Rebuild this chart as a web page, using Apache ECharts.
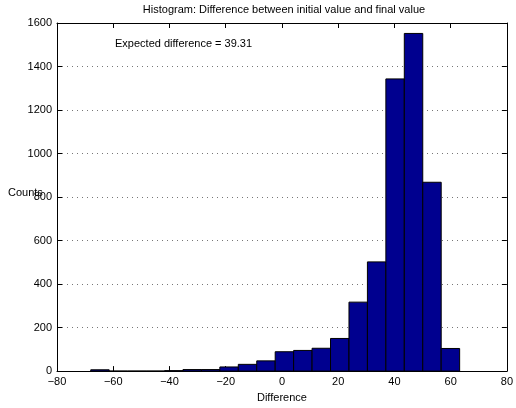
<!DOCTYPE html>
<html><head><meta charset="utf-8">
<script src="https://cdn.jsdelivr.net/npm/echarts@6/dist/echarts.min.js"></script>
<style>html,body{margin:0;padding:0;background:#fff}#c{width:516px;height:408px}</style>
</head><body><div id="c"></div>
<script>
// Histogram data (20 bins)
const binEdges = [-68.0,-61.44,-54.88,-48.32,-41.76,-35.2,-28.64,-22.08,-15.52,-8.96,-2.4,4.16,10.72,17.28,23.84,30.4,36.96,43.52,50.08,56.64,63.2];
const counts = [6,0,0,0,2,7,7,19,31,47,89,95,105,150,317,502,1343,1552,868,104];
const xTicks = [-80,-60,-40,-20,0,20,40,60,80];
const yTicks = [0,200,400,600,800,1000,1200,1400,1600];
const titleText = 'Histogram: Difference between initial value and final value';
const xLabel = 'Difference';
const yLabel = 'Counts';
const note = 'Expected difference = 39.31';

const data = counts.map((c,i)=>[binEdges[i], binEdges[i+1], c]);
const FONT = 'Liberation Sans';
const chart = echarts.init(document.getElementById('c'), null, {renderer:'canvas'});
const axisCommon = {
  axisLine:{show:true, onZero:false, lineStyle:{color:'#000', width:1}},
  axisTick:{show:true, inside:true, length:5, lineStyle:{color:'#000'}},
};
chart.setOption({
  animation:false,
  backgroundColor:'#fff',
  grid:{left:57, right:5, top:23, bottom:30},
  xAxis:[
    Object.assign({type:'value', min:xTicks[0], max:xTicks[xTicks.length-1], interval:20, position:'bottom',
      axisLabel:{fontFamily:FONT, fontSize:11, color:'#000', margin:5, formatter:v=>String(v).replace('-','\u2212')},
      splitLine:{show:false},
      name:xLabel, nameLocation:'middle', nameGap:19, nameTextStyle:{fontFamily:FONT, fontSize:11, color:'#000'}}, axisCommon),
    Object.assign({type:'value', min:xTicks[0], max:xTicks[xTicks.length-1], interval:20, position:'top',
      axisLabel:{show:false}, splitLine:{show:false}}, axisCommon)
  ],
  yAxis:[
    Object.assign({type:'value', min:yTicks[0], max:yTicks[yTicks.length-1], interval:200, position:'left',
      axisLabel:{fontFamily:FONT, fontSize:11, color:'#000', margin:5, formatter:v=>String(v)},
      splitLine:{show:true, lineStyle:{color:'#777', type:[1,4], width:1}}}, axisCommon),
    Object.assign({type:'value', min:yTicks[0], max:yTicks[yTicks.length-1], interval:200, position:'right',
      axisLabel:{show:false}, splitLine:{show:false}}, axisCommon)
  ],
  graphic:[
    {type:'text', x:284, y:4, style:{text:titleText, font:'11px "Liberation Sans"', fill:'#000', textAlign:'center'}},
    {type:'text', left:8, top:187, style:{text:yLabel, font:'11px "Liberation Sans"', fill:'#000'}},
    {type:'text', left:115, top:38, style:{text:note, font:'11px "Liberation Sans"', fill:'#000'}}
  ],
  series:[{
    type:'custom',
    xAxisIndex:0, yAxisIndex:0,
    data:data,
    encode:{x:[0,1], y:2},
    renderItem:function(params, api){
      const p0 = api.coord([api.value(0), api.value(2)]);
      const p1 = api.coord([api.value(1), 0]);
      return {type:'rect', shape:{x:p0[0], y:p0[1], width:p1[0]-p0[0], height:p1[1]-p0[1]},
        style:{fill:'#00008F', stroke:'#000', lineWidth:1}};
    }
  }]
});
</script></body></html>
